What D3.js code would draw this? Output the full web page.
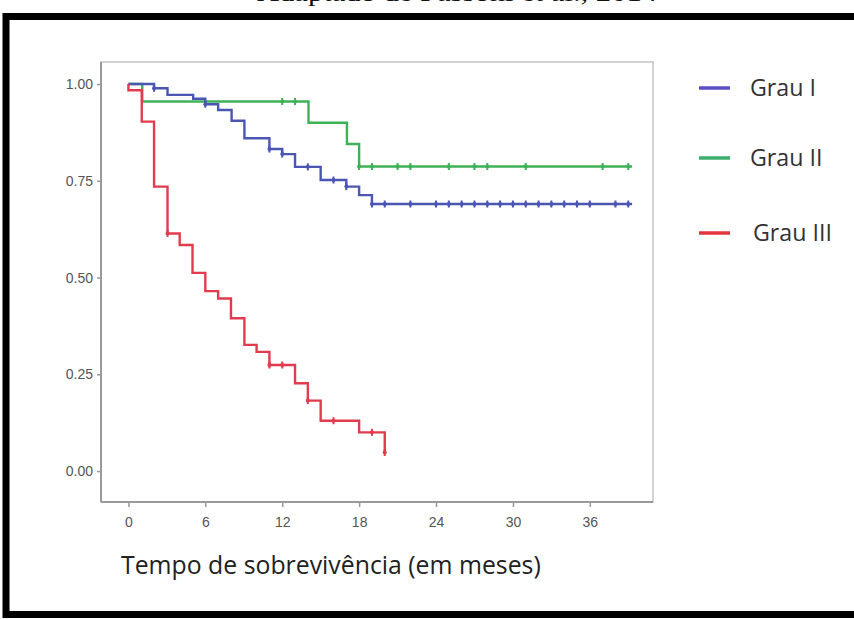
<!DOCTYPE html>
<html>
<head>
<meta charset="utf-8">
<script src="https://cdn.jsdelivr.net/npm/d3@7"></script>
<style>
  html, body { margin: 0; padding: 0; background: #ffffff; }
  svg { display: block; }
</style>
</head>
<body>
<script>
// ---------- data ----------
const seriesNames = ["Grau I", "Grau II", "Grau III"];
const seriesColors = ["#4b56b3", "#3fb157", "#e23b4e"];
const legendColors = ["#5a4fc6", "#3fae6c", "#e5333d"];

const blueTimes = [0, 2.0, 3.05, 5.05, 6.0, 7.0, 8.05, 9.05, 11.0, 12.0, 13.0, 15.0, 17.0, 18.0, 19.0, 39.3];
const blueSurv  = [1.0, 0.989, 0.972, 0.962, 0.948, 0.933, 0.905, 0.860, 0.832, 0.819, 0.786, 0.752, 0.735, 0.713, 0.690, 0.690];
const blueCensor = [2.0, 6.0, 11.0, 12.0, 14.0, 16.0, 17.0, 19.0, 20.0, 22.0, 24.0, 25.0, 26.0, 27.0, 28.0, 29.0, 30.0, 31.0, 32.0, 33.0, 34.0, 35.0, 36.0, 38.0, 39.0];

const greenTimes = [0, 1.08, 14.05, 17.05, 18.0, 39.3];
const greenSurv  = [1.0, 0.955, 0.900, 0.845, 0.787, 0.787];
const greenCensor = [12.0, 13.0, 18.0, 19.0, 21.0, 22.0, 25.0, 27.0, 28.0, 31.0, 37.0, 39.0];

const redTimes = [0, 0, 1.04, 2.0, 3.05, 4.0, 5.0, 6.0, 7.0, 8.0, 9.05, 10.0, 11.0, 13.0, 14.0, 15.0, 18.0, 20.0];
const redSurv  = [1.0, 0.984, 0.903, 0.735, 0.614, 0.584, 0.512, 0.465, 0.446, 0.395, 0.326, 0.308, 0.274, 0.227, 0.182, 0.130, 0.100, 0.048];
const redCensor = [3.05, 11.0, 12.0, 14.0, 16.0, 19.0, 20.0];

const xTicks = [0, 6, 12, 18, 24, 30, 36];
const yTicks = [0, 0.25, 0.5, 0.75, 1.0];
const xTitle = "Tempo de sobrevivência (em meses)";
const topCaption = "Adaptado de Fassoni et al., 2014";

// ---------- layout ----------
const W = 854, H = 619;
const plot = { left: 101, right: 653, top: 62, bottom: 502 };

const svg = d3.select("body").append("svg").attr("width", W).attr("height", H);
svg.append("rect").attr("width", W).attr("height", H).attr("fill", "#fff");

// caption, cut off at the very top as in the source
svg.append("text")
  .attr("x", 257).attr("y", 0.5)
  .attr("font-family", "'Liberation Serif', 'Times New Roman', serif")
  .attr("font-size", 26)
  .attr("textLength", 400).attr("lengthAdjust", "spacingAndGlyphs")
  .attr("fill", "#111")
  .text(topCaption);

// black frame
svg.append("rect")
  .attr("x", 6).attr("y", 16.5).attr("width", 900).attr("height", 598)
  .attr("fill", "#fff").attr("stroke", "#000").attr("stroke-width", 7);

const x = d3.scaleLinear().domain([-2.14, 40.93]).range([plot.left, plot.right]);
const y = d3.scaleLinear().domain([-0.08, 1.057]).range([plot.bottom, plot.top]);

// plot box
svg.append("rect")
  .attr("x", plot.left).attr("y", plot.top)
  .attr("width", plot.right - plot.left).attr("height", plot.bottom - plot.top)
  .attr("fill", "#fff").attr("stroke", "#c4c4c4").attr("stroke-width", 1.5);

// axes
const yAxis = d3.axisLeft(y).tickValues(yTicks).tickFormat(d3.format(".2f")).tickSize(4).tickPadding(4);
const xAxis = d3.axisBottom(x).tickValues(xTicks).tickFormat(d3.format("d")).tickSize(5).tickPadding(10);

const gy = svg.append("g").attr("transform", `translate(${plot.left},0)`).call(yAxis);
const gx = svg.append("g").attr("transform", `translate(0,${plot.bottom})`).call(xAxis);
[gx, gy].forEach(g => {
  g.select(".domain").attr("stroke", "#9a9a9a").attr("stroke-width", 2);
  g.selectAll(".tick line").attr("stroke", "#9a9a9a").attr("stroke-width", 1.5);
  g.selectAll(".tick text")
    .attr("font-family", "'Liberation Sans', Arial, sans-serif")
    .attr("font-size", 14).attr("fill", "#555");
});
gy.select(".domain").attr("d", `M0,${plot.top}V${plot.bottom}`);
gx.select(".domain").attr("d", `M${plot.left},0H${plot.right}`);

// survival curves
const series = [
  { times: blueTimes, surv: blueSurv, censor: blueCensor },
  { times: greenTimes, surv: greenSurv, censor: greenCensor },
  { times: redTimes, surv: redSurv, censor: redCensor }
];
const line = d3.line().x(d => x(d[0])).y(d => y(d[1])).curve(d3.curveStepAfter);

function survAt(s, t) {
  let v = s.surv[0];
  for (let i = 0; i < s.times.length; i++) if (s.times[i] <= t + 1e-9) v = s.surv[i];
  return v;
}

const drawOrder = [1, 0, 2];
drawOrder.forEach(i => {
  const s = series[i];
  const pts = s.times.map((t, k) => [t, s.surv[k]]);
  svg.append("path").datum(pts)
    .attr("d", line).attr("fill", "none")
    .attr("stroke", seriesColors[i]).attr("stroke-width", 2.4)
    .attr("stroke-linejoin", "miter");
  svg.append("g").selectAll("line").data(s.censor).join("line")
    .attr("x1", d => x(d)).attr("x2", d => x(d))
    .attr("y1", d => y(survAt(s, d)) - 3.5).attr("y2", d => y(survAt(s, d)) + 3.5)
    .attr("stroke", seriesColors[i]).attr("stroke-width", 2);
  svg.append("g").selectAll("circle").data(s.censor).join("circle")
    .attr("cx", d => x(d)).attr("cy", d => y(survAt(s, d)))
    .attr("r", 2).attr("fill", seriesColors[i]);
});

// legend
const legendY = [88, 158, 233];
const legendTextX = [750, 750, 753];
seriesNames.forEach((name, i) => {
  svg.append("line")
    .attr("x1", 699).attr("x2", 730).attr("y1", legendY[i]).attr("y2", legendY[i])
    .attr("stroke", legendColors[i]).attr("stroke-width", 3.5);
  svg.append("text")
    .attr("class", "legtext")
    .attr("x", legendTextX[i]).attr("y", legendY[i]).attr("dy", "0.35em")
    .attr("font-family", "'Open Sans', 'Noto Sans', sans-serif")
    .attr("font-size", 17).attr("fill", "#333")
    .text(name);
});
{
  const t = svg.selectAll(".legtext").nodes()[2];
  const w = t.getComputedTextLength();
  svg.selectAll(".legtext").attr("font-size", 17 * 79 / w);
}

// x title
const xt = svg.append("text")
  .attr("x", 121).attr("y", 565).attr("dy", "0.35em")
  .attr("font-family", "'Open Sans', 'Noto Sans', sans-serif")
  .attr("font-size", 20).attr("fill", "#222")
  .text(xTitle);
{
  const w = xt.node().getComputedTextLength();
  xt.attr("font-size", 20 * 420 / w);
}
</script>
</body>
</html>
